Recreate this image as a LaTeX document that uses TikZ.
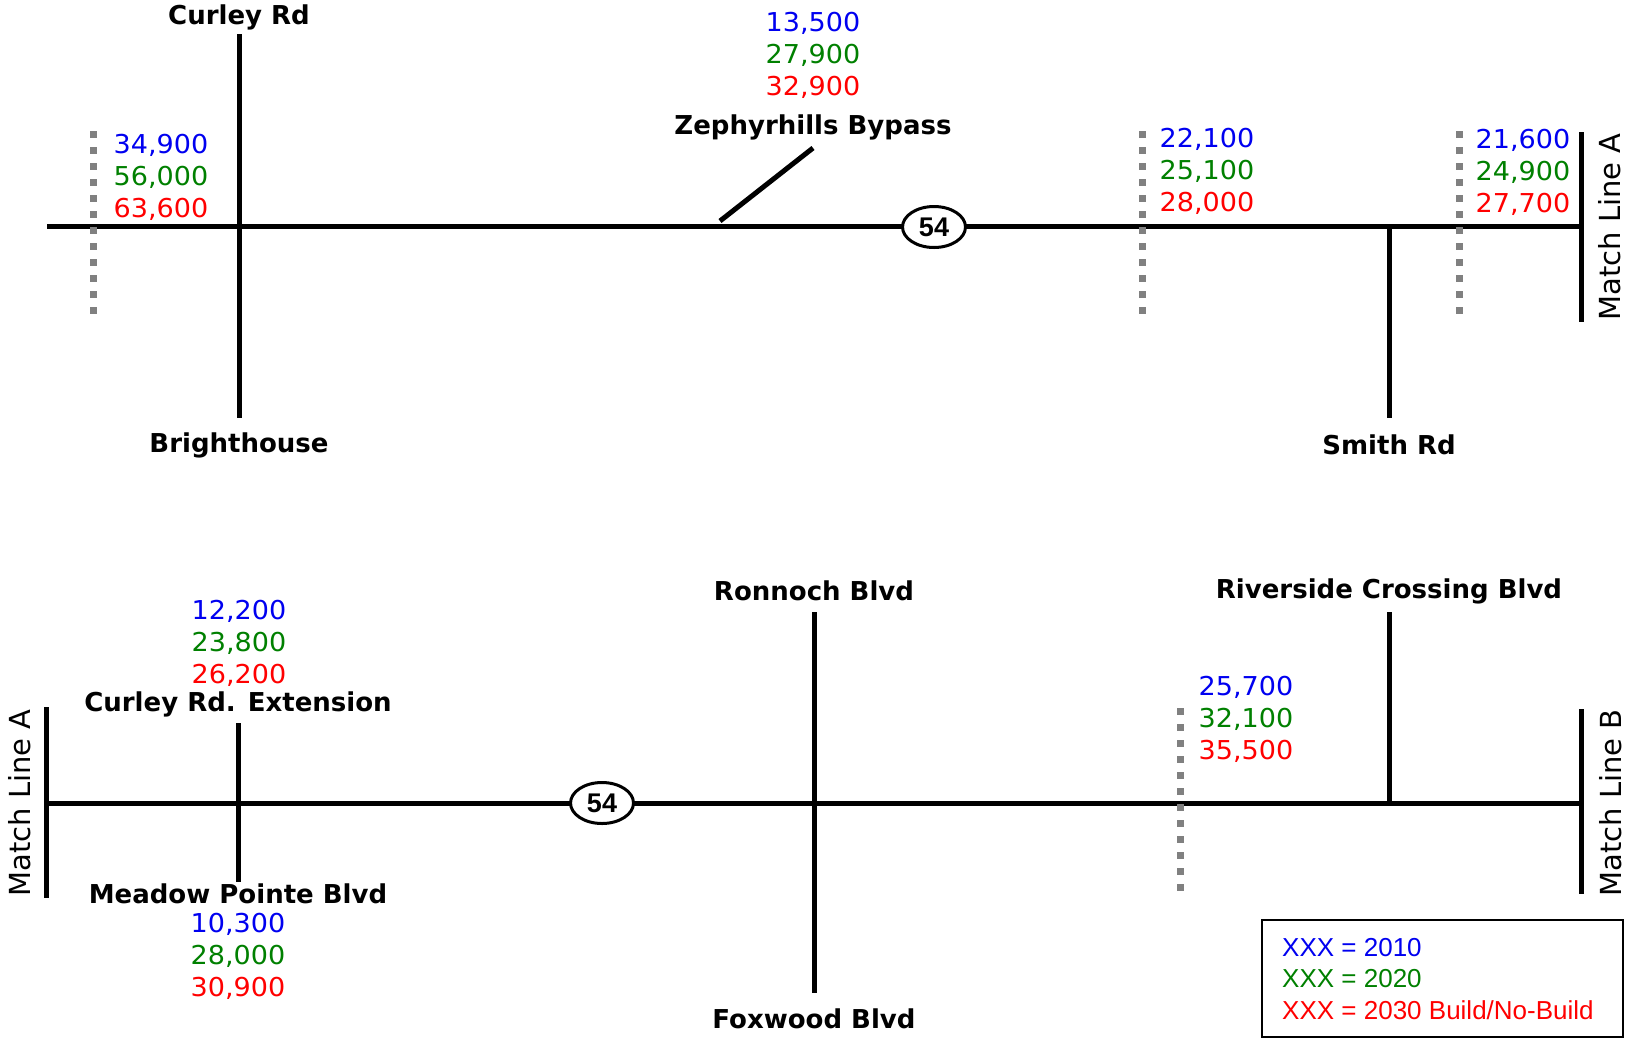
\documentclass[tikz,border=0pt]{standalone}
\usepackage{fontspec}
\setmainfont{DejaVu Sans}
\newfontfamily\volfont[FakeStretch=1.04]{DejaVu Sans}
\newfontfamily\arialfont{Liberation Sans}
\usetikzlibrary{shapes.geometric}
\definecolor{vblue}{RGB}{0,0,240}
\definecolor{vgreen}{RGB}{0,128,0}
\definecolor{vred}{RGB}{255,0,0}
\definecolor{stationgray}{RGB}{128,128,128}
\begin{document}
\begin{tikzpicture}[x=1pt,y=-1pt,
  road/.style={line width=5pt, line cap=butt},
  station/.style={draw=stationgray, line width=7pt, dash pattern=on 7pt off 9pt},
  roadname/.style={font=\bfseries\fontsize{26}{30}\selectfont, inner sep=0pt},
  vol/.style={font=\volfont\fontsize{26}{32}\selectfont, align=center, inner sep=0pt},
  shield/.style={ellipse, draw, line width=3pt, fill=white, minimum width=63pt,
    minimum height=41pt, inner sep=0pt, font=\arialfont\bfseries\fontsize{27}{27}\selectfont},
  matchtext/.style={rotate=90, font=\fontsize{29}{29}\selectfont, inner sep=0pt}]
\useasboundingbox (0,0) rectangle (1627,1037);

% ---------- upper segment ----------
\coordinate (tW) at (47,226);
\coordinate (tE) at (1581,226);
\coordinate (curN) at (239,34);
\coordinate (curS) at (239,418);
\coordinate (zephR) at (720,221);
\coordinate (zephT) at (813,148);
\coordinate (smithN) at (1389,226);
\coordinate (smithS) at (1389,418);
\coordinate (mlAtop) at (1581,132);
\coordinate (mlAbot) at (1581,322);

\draw[road] (tW) -- (tE);
\draw[road] (curN) -- (curS);
\draw[road] (zephR) -- (zephT);
\draw[road] (smithN) -- (smithS);
\draw[road] (mlAtop) -- (mlAbot);

\coordinate (st1a) at (93,131);   \coordinate (st1b) at (93,315);
\coordinate (st2a) at (1142,131); \coordinate (st2b) at (1142,315);
\coordinate (st3a) at (1459,131); \coordinate (st3b) at (1459,315);
\draw[station] (st1a) -- (st1b);
\draw[station] (st2a) -- (st2b);
\draw[station] (st3a) -- (st3b);

\node[shield] (sr54a) at (934,227) {54};

\node[roadname] (curley) at (239,17) {Curley Rd};
\node[roadname] (bright) at (239,445) {Brighthouse};
\node[roadname] (zeph) at (813,127) {Zephyrhills Bypass};
\node[roadname] (smith) at (1389,445) {Smith Rd};
\node[matchtext] (mlAtxt) at (1610,227) {Match Line A};

\node[vol] (v1) at (161,177) {\color{vblue}34,900\\\color{vgreen}56,000\\\color{vred}63,600};
\node[vol] (v2) at (813,55) {\color{vblue}13,500\\\color{vgreen}27,900\\\color{vred}32,900};
\node[vol] (v3) at (1207,171) {\color{vblue}22,100\\\color{vgreen}25,100\\\color{vred}28,000};
\node[vol] (v4) at (1523,172) {\color{vblue}21,600\\\color{vgreen}24,900\\\color{vred}27,700};

% ---------- lower segment ----------
\coordinate (bW) at (46,803);
\coordinate (bE) at (1581,803);
\coordinate (mlA2top) at (46,707);
\coordinate (mlA2bot) at (46,898);
\coordinate (extN) at (238,723);
\coordinate (extS) at (238,882);
\coordinate (ronN) at (814,612);
\coordinate (ronS) at (814,993);
\coordinate (rivN) at (1389,612);
\coordinate (rivS) at (1389,803);
\coordinate (mlBtop) at (1581,709);
\coordinate (mlBbot) at (1581,894);

\draw[road] (bW) -- (bE);
\draw[road] (mlA2top) -- (mlA2bot);
\draw[road] (extN) -- (extS);
\draw[road] (ronN) -- (ronS);
\draw[road] (rivN) -- (rivS);
\draw[road] (mlBtop) -- (mlBbot);

\coordinate (st4a) at (1180,708); \coordinate (st4b) at (1180,892);
\draw[station] (st4a) -- (st4b);

\node[shield] (sr54b) at (602,803) {54};

\node[roadname] (ext) at (238,704) {Curley Rd. Extension};
\node[roadname] (meadow) at (238,894) {Meadow Pointe Blvd};
\node[roadname] (ronnoch) at (814,591) {Ronnoch Blvd};
\node[roadname] (foxwood) at (814,1019) {Foxwood Blvd};
\node[roadname] (riverside) at (1389,591) {Riverside Crossing Blvd};
\node[matchtext] (mlA2txt) at (20,803) {Match Line A};
\node[matchtext] (mlBtxt) at (1611,803) {Match Line B};

\node[vol] (v5) at (239,643) {\color{vblue}12,200\\\color{vgreen}23,800\\\color{vred}26,200};
\node[vol] (v6) at (238,956) {\color{vblue}10,300\\\color{vgreen}28,000\\\color{vred}30,900};
\node[vol] (v7) at (1246,719) {\color{vblue}25,700\\\color{vgreen}32,100\\\color{vred}35,500};

% ---------- legend ----------
\node[draw, line width=2pt, minimum width=361pt, minimum height=117pt, anchor=north west,
  inner sep=0pt] (legend) at (1261,919) {};
\node[anchor=west, align=left, inner sep=0pt, font=\arialfont\fontsize{26}{31.5}\selectfont]
  (legendtxt) at (1282,979)
  {\color{vblue}XXX = 2010\\\color{vgreen}XXX = 2020\\\color{vred}XXX = 2030 Build/No-Build};
\end{tikzpicture}
\end{document}
